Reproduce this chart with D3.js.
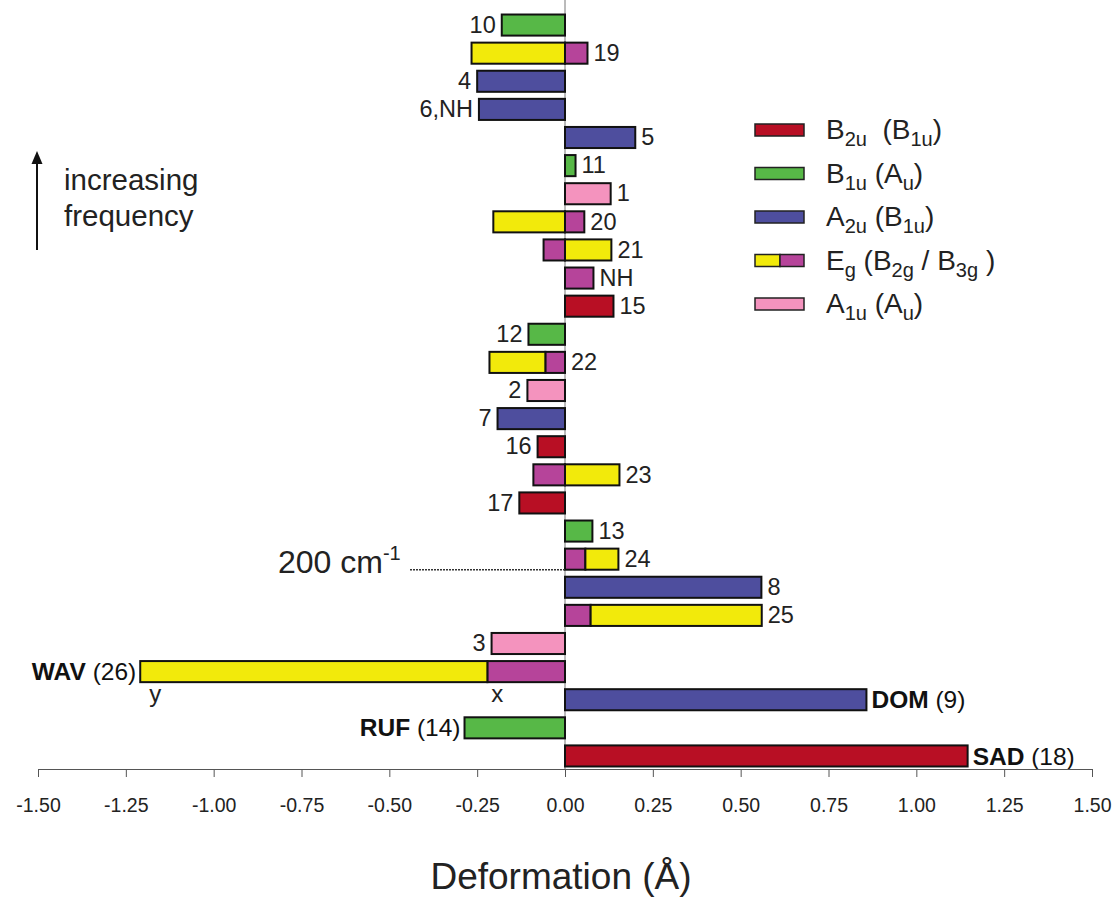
<!DOCTYPE html>
<html>
<head>
<meta charset="utf-8">
<script src="https://cdn.jsdelivr.net/npm/d3@7"></script>
<style>
  body { margin: 0; background: #fff; }
  svg { display: block; font-family: "Liberation Sans", Arial, sans-serif; }
  text { white-space: pre; }
</style>
</head>
<body>
<svg></svg>
<script>
// modes from top (highest frequency) to bottom
let modes = ["10", "19", "4", "6,NH", "5", "11", "1", "20", "21", "NH", "15", "12", "22", "2",
             "7", "16", "23", "17", "13", "24", "8", "25", "3", "WAV", "DOM", "RUF", "SAD"]
let symmetry = ["B1u", "Eg", "A2u", "A2u", "A2u", "B1u", "A1u", "Eg", "Eg", "Eg", "B2u", "B1u", "Eg", "A1u",
                "A2u", "B2u", "Eg", "B2u", "B1u", "Eg", "A2u", "Eg", "A1u", "Eg", "A2u", "B1u", "B2u"]
// deformation (A) for the single component modes, x (magenta) and y (yellow) parts for Eg
let deform = [-0.18, 0, -0.25, -0.245, 0.20, 0.03, 0.13, 0, 0, 0, 0.138, -0.104, 0, -0.107,
              -0.192, -0.078, 0, -0.13, 0.078, 0, 0.559, 0, -0.209, 0, 0.858, -0.286, 1.146]
let egX = [0, 0.064, 0, 0, 0, 0, 0, 0.055, -0.061, 0.081, 0, 0, -0.056, 0,
           0, 0, -0.09, 0, 0, 0.058, 0, 0.073, 0, -0.221, 0, 0, 0]
let egY = [0, -0.266, 0, 0, 0, 0, 0, -0.204, 0.132, 0, 0, 0, -0.159, 0,
           0, 0, 0.155, 0, 0, 0.094, 0, 0.487, 0, -0.988, 0, 0, 0]
// named modes: bold name + mode number
let namedModes = {"WAV": "26", "DOM": "9", "RUF": "14", "SAD": "18"}

let xTicks = [-1.5, -1.25, -1, -0.75, -0.5, -0.25, 0, 0.25, 0.5, 0.75, 1, 1.25, 1.5]

let legendKeys = ["B2u", "B1u", "A2u", "Eg", "A1u"]
let legendLabels = ["B_{2u}  (B_{1u})", "B_{1u} (A_{u})", "A_{2u} (B_{1u})", "E_{g} (B_{2g} / B_{3g} )", "A_{1u} (A_{u})"]

let colors = {B2u: "#b80f24", B1u: "#57b847", A2u: "#4e4e9e", A1u: "#f493be"}
let yellow = "#f2ea0b"
let magenta = "#b6449a"

let width = 1117
let height = 897

let svg = d3.select("svg").attr("width", width).attr("height", height)

let xScale = d3.scaleLinear().domain([-1.5, 1.5]).range([38, 1092])
let yScale = d3.scaleBand().domain(modes).range([11, 770]).paddingInner(0.25).paddingOuter(0.125)
let bh = yScale.bandwidth()

let rows = modes.map((m, i) => ({mode: m, sym: symmetry[i], v: deform[i], x: egX[i], y: egY[i]}))

// zero line
svg.append("line")
   .attr("x1", xScale(0)).attr("x2", xScale(0))
   .attr("y1", 0).attr("y2", 769)
   .attr("stroke", "#777").attr("stroke-width", 1)

let drawBar = (x0, x1, yTop, fill) => {
  svg.append("rect")
     .attr("x", xScale(Math.min(x0, x1)))
     .attr("y", yTop)
     .attr("width", Math.abs(xScale(x1) - xScale(x0)))
     .attr("height", bh)
     .attr("fill", fill)
     .attr("stroke", "#111")
     .attr("stroke-width", 2)
}

let labelSize = 23.5
let gap = 6

rows.forEach((r) => {
  let top = yScale(r.mode)
  let mid = top + bh / 2
  let right = 0, left = 0
  if (r.sym == "Eg") {
    drawBar(0, r.x, top, magenta)
    let start = (r.x * r.y > 0) ? r.x : 0
    if (r.y != 0) drawBar(start, start + r.y, top, yellow)
    right = Math.max(0, r.x, start + r.y)
    left = Math.min(0, r.x, start + r.y)
    if (r.mode == "WAV") {
      // component labels under the bar
      svg.append("text").attr("x", xScale(start + r.y) + 9).attr("y", top + bh + 20)
         .attr("font-size", 24).attr("fill", "#222").text("y")
      svg.append("text").attr("x", xScale(r.x) + 4).attr("y", top + bh + 20)
         .attr("font-size", 24).attr("fill", "#222").text("x")
    }
  } else {
    drawBar(0, r.v, top, colors[r.sym])
    right = Math.max(0, r.v)
    left = Math.min(0, r.v)
  }

  if (namedModes[r.mode]) {
    let onLeft = left < 0
    let t = svg.append("text")
               .attr("x", onLeft ? xScale(left) - 4 : xScale(right) + 5)
               .attr("y", mid).attr("dy", "0.35em")
               .attr("text-anchor", onLeft ? "end" : "start")
               .attr("font-size", 24.5)
               .attr("fill", "#111")
    t.append("tspan").attr("font-weight", "bold").text(r.mode)
    t.append("tspan").text(" (" + namedModes[r.mode] + ")")
  } else {
    let onRight = r.sym == "Eg" || r.v > 0
    svg.append("text")
       .attr("x", onRight ? xScale(right) + gap : xScale(left) - gap)
       .attr("y", mid).attr("dy", "0.33em")
       .attr("text-anchor", onRight ? "start" : "end")
       .attr("font-size", labelSize)
       .attr("fill", "#222")
       .text(r.mode)
  }
})

// 200 cm-1 marker
let markY = yScale("24") + bh
svg.append("line")
   .attr("x1", 410).attr("x2", xScale(0))
   .attr("y1", markY).attr("y2", markY)
   .attr("stroke", "#333").attr("stroke-width", 1.5)
   .attr("stroke-dasharray", "2,1")
let mark = svg.append("text").attr("x", 278).attr("y", markY + 3).attr("font-size", 32).attr("fill", "#222")
mark.append("tspan").text("200 cm")
mark.append("tspan").attr("font-size", 20).attr("dy", -13).text("-1")

// axis
let xAxis = d3.axisBottom(xScale)
              .tickValues(xTicks)
              .tickFormat(d3.format(".2f"))
              .tickSize(8)
              .tickSizeOuter(0)
              .tickPadding(21)
let ax = svg.append("g")
            .attr("id", "x-axis")
            .attr("transform", "translate(0," + 769 + ")")
            .call(xAxis)
ax.select(".domain").attr("stroke", "#555")
ax.selectAll(".tick line").attr("stroke", "#555")
ax.selectAll(".tick text")
  .attr("font-size", 19.5)
  .attr("font-family", "'Liberation Sans', Arial, sans-serif")
  .attr("fill", "#222")
  .text((d) => d3.format(".2f")(d).replace("−", "-"))

svg.append("text")
   .attr("x", xScale(0) - 4).attr("y", 889)
   .attr("text-anchor", "middle")
   .attr("font-size", 37)
   .attr("fill", "#222")
   .text("Deformation (Å)")

// frequency arrow
svg.append("line")
   .attr("x1", 37).attr("x2", 37).attr("y1", 250).attr("y2", 162)
   .attr("stroke", "#111").attr("stroke-width", 2)
svg.append("path")
   .attr("d", "M37,151 L31.5,164 L42.5,164 Z")
   .attr("fill", "#111")
svg.append("text").attr("x", 64).attr("y", 190).attr("font-size", 29.5).attr("fill", "#222").text("increasing")
svg.append("text").attr("x", 64).attr("y", 226).attr("font-size", 29.5).attr("fill", "#222").text("frequency")

// legend
let legend = svg.append("g").attr("id", "legend")
let legendY = d3.scalePoint().domain(legendKeys).range([130, 304])
legendKeys.forEach((k, i) => {
  let cy = legendY(k)
  if (k == "Eg") {
    legend.append("rect").attr("x", 755).attr("y", cy - 6).attr("width", 25).attr("height", 12)
          .attr("fill", yellow).attr("stroke", "#222").attr("stroke-width", 1.5)
    legend.append("rect").attr("x", 780).attr("y", cy - 6).attr("width", 24).attr("height", 12)
          .attr("fill", magenta).attr("stroke", "#222").attr("stroke-width", 1.5)
  } else {
    legend.append("rect").attr("x", 755).attr("y", cy - 6).attr("width", 49).attr("height", 12)
          .attr("fill", colors[k]).attr("stroke", "#222").attr("stroke-width", 1.5)
  }
  let t = legend.append("text").attr("x", 826).attr("y", cy + 9).attr("font-size", 28).attr("fill", "#222")
  let parts = legendLabels[i].split(/(_\{[^}]*\})/).filter((p) => p.length)
  parts.forEach((p) => {
    if (p.startsWith("_{")) {
      t.append("tspan").attr("font-size", 20).attr("dy", 7).text(p.slice(2, -1))
    } else {
      let sp = t.append("tspan").text(p)
      if (t.selectAll("tspan").size() > 1) sp.attr("dy", -7)
    }
  })
})
</script>
</body>
</html>
